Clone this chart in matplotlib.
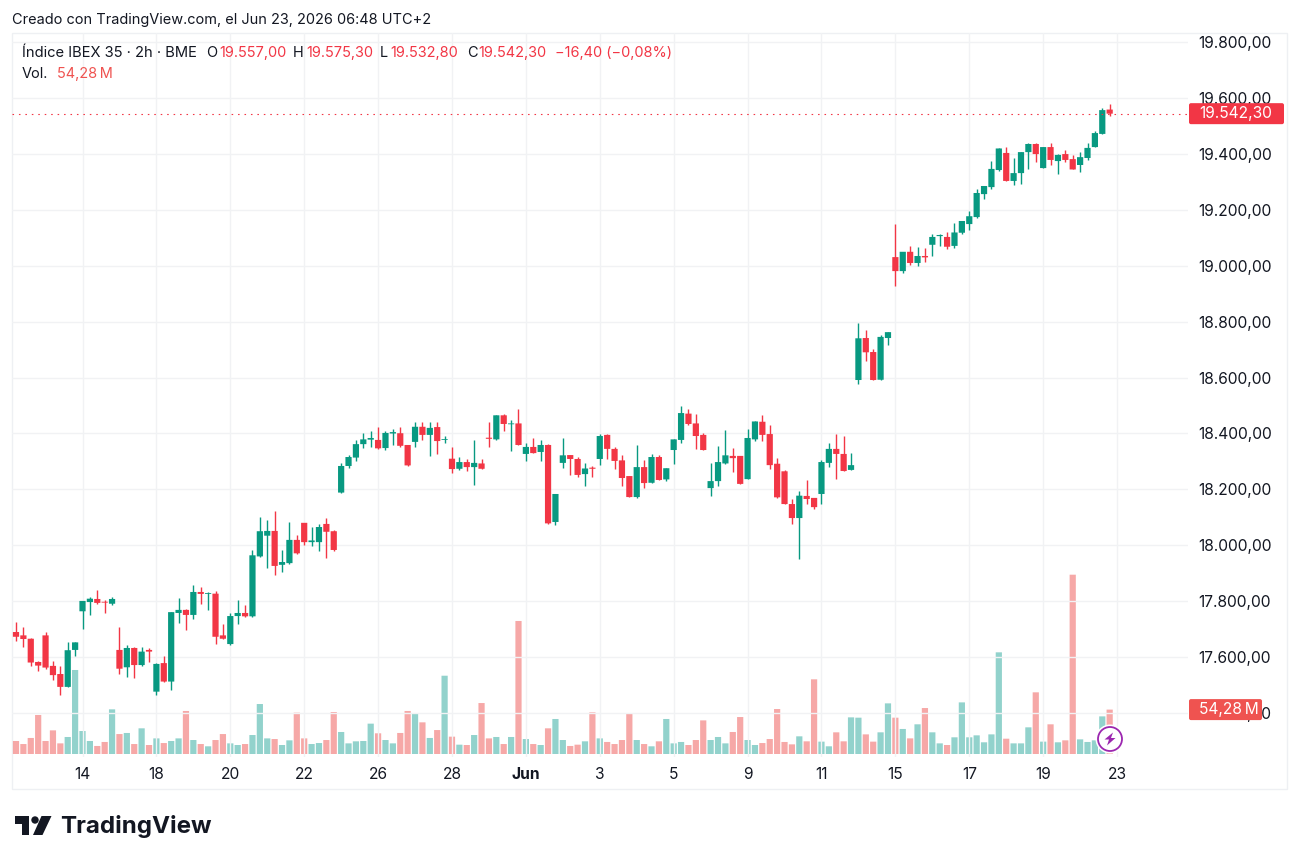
import matplotlib
matplotlib.use("Agg")
import matplotlib.pyplot as plt
from matplotlib.patches import Circle, FancyBboxPatch, Polygon, Rectangle
from matplotlib.transforms import IdentityTransform

plt.rcParams["font.family"] = ["Inter", "DejaVu Sans"]

# Two-hour OHLC bars, IBEX 35
opens = [
    17691, 17679, 17667, 17584, 17679, 17570, 17541, 17495, 17627, 17765,
    17798, 17809, 17799, 17792, 17627, 17565, 17634, 17573, 17627, 17478,
    17580, 17514, 17759, 17770, 17752, 17834, 17827, 17828, 17679, 17648,
    17748, 17759, 17747, 17961, 18035, 18052, 17931, 17937, 18020, 18081,
    18012, 18012, 18077, 18051, 18189, 18284, 18314, 18362, 18378, 18377,
    18348, 18400, 18401, 18359, 18370, 18424, 18395, 18423, 18377, 18310,
    18274, 18298, 18280, 18293, 18385, 18379, 18465, 18433, 18436, 18327,
    18352, 18334, 18359, 18084, 18295, 18323, 18309, 18255, 18278, 18309,
    18395, 18345, 18304, 18248, 18173, 18280, 18224, 18316, 18236, 18341,
    18377, 18471, 18436, 18395, 18205, 18230, 18293, 18320, 18320, 18237,
    18379, 18442, 18398, 18292, 18265, 18148, 18098, 18177, 18170, 18184,
    18295, 18345, 18327, 18270, 18591, 18741, 18691, 18592, 18741, 19030,
    18980, 19049, 19009, 19034, 19074, 19105, 19102, 19070, 19117, 19148,
    19173, 19255, 19280, 19341, 19402, 19302, 19330, 19405, 19434, 19348,
    19423, 19373, 19398, 19380, 19359, 19384, 19423, 19470, 19557,
]
highs = [
    17726, 17709, 17670, 17586, 17690, 17586, 17570, 17654, 17654, 17803,
    17815, 17841, 17805, 17816, 17709, 17645, 17638, 17638, 17634, 17580,
    17605, 17763, 17811, 17773, 17858, 17851, 17834, 17837, 17720, 17758,
    17804, 17787, 17983, 18102, 18091, 18123, 17984, 18084, 18037, 18082,
    18066, 18077, 18098, 18055, 18296, 18323, 18377, 18402, 18409, 18423,
    18408, 18415, 18423, 18360, 18442, 18441, 18442, 18441, 18391, 18352,
    18316, 18310, 18377, 18310, 18442, 18466, 18470, 18448, 18487, 18366,
    18384, 18377, 18362, 18185, 18385, 18324, 18316, 18293, 18284, 18397,
    18398, 18352, 18323, 18249, 18359, 18304, 18327, 18323, 18277, 18380,
    18498, 18487, 18470, 18402, 18293, 18355, 18412, 18348, 18321, 18416,
    18444, 18466, 18430, 18312, 18270, 18166, 18195, 18234, 18171, 18305,
    18366, 18398, 18391, 18330, 18795, 18770, 18701, 18752, 18763, 19148,
    19050, 19070, 19066, 19062, 19114, 19114, 19120, 19153, 19160, 19195,
    19273, 19285, 19373, 19420, 19424, 19384, 19406, 19436, 19436, 19424,
    19436, 19398, 19412, 19395, 19405, 19437, 19480, 19562, 19575.3,
]
lows = [
    17660, 17639, 17570, 17552, 17560, 17520, 17466, 17493, 17605, 17703,
    17753, 17792, 17759, 17789, 17541, 17529, 17527, 17568, 17584, 17466,
    17513, 17483, 17722, 17698, 17737, 17792, 17770, 17649, 17666, 17645,
    17720, 17745, 17745, 17959, 17920, 17895, 17906, 17934, 17970, 18002,
    17998, 17980, 17954, 17981, 18186, 18277, 18302, 18349, 18352, 18343,
    18341, 18359, 18353, 18285, 18352, 18377, 18320, 18327, 18366, 18259,
    18270, 18266, 18216, 18273, 18352, 18377, 18409, 18337, 18358, 18303,
    18329, 18303, 18077, 18073, 18277, 18252, 18245, 18211, 18245, 18286,
    18309, 18273, 18212, 18172, 18171, 18206, 18223, 18233, 18230, 18291,
    18367, 18430, 18345, 18340, 18177, 18211, 18292, 18262, 18219, 18236,
    18373, 18373, 18273, 18171, 18147, 18077, 17952, 18148, 18130, 18148,
    18280, 18237, 18265, 18269, 18577, 18659, 18590, 18591, 18717, 18927,
    18973, 19002, 18998, 19012, 19034, 19070, 19059, 19062, 19114, 19127,
    19170, 19237, 19273, 19336, 19301, 19287, 19291, 19345, 19370, 19347,
    19359, 19327, 19370, 19343, 19334, 19377, 19422, 19469, 19532.8,
]
closes = [
    17674, 17666, 17582, 17571, 17564, 17537, 17495, 17626, 17654, 17802,
    17810, 17795, 17796, 17809, 17560, 17634, 17573, 17621, 17621, 17577,
    17514, 17762, 17770, 17752, 17834, 17827, 17830, 17674, 17667, 17748,
    17759, 17747, 17965, 18051, 18052, 17927, 17941, 18020, 17972, 18012,
    18018, 18066, 18049, 17984, 18284, 18316, 18362, 18379, 18384, 18347,
    18402, 18405, 18356, 18286, 18424, 18395, 18420, 18373, 18380, 18273,
    18298, 18280, 18295, 18274, 18381, 18465, 18434, 18436, 18359, 18352,
    18330, 18359, 18079, 18184, 18322, 18309, 18252, 18275, 18274, 18391,
    18345, 18302, 18241, 18173, 18280, 18223, 18316, 18234, 18276, 18379,
    18473, 18434, 18391, 18341, 18230, 18298, 18322, 18312, 18220, 18384,
    18443, 18395, 18287, 18172, 18148, 18098, 18178, 18166, 18137, 18298,
    18345, 18327, 18266, 18287, 18740, 18690, 18591, 18745, 18762, 18980,
    19049, 19009, 19034, 19029, 19102, 19109, 19067, 19118, 19159, 19176,
    19259, 19284, 19345, 19418, 19302, 19330, 19405, 19434, 19398, 19423,
    19377, 19395, 19377, 19343, 19387, 19420, 19473, 19555, 19542.3,
]
# Traded volume per bar, in millions
volumes = [
    15.9, 12.2, 19.6, 47.7, 15.9, 28.9, 13, 20.8, 102.7, 28.1,
    15.9, 9.8, 14.7, 54.6, 24.4, 25.7, 12.2, 31.4, 11, 19.1,
    13.4, 15.9, 19.1, 52.6, 17.1, 12.2, 9.4, 17.1, 24.4, 13,
    11, 12.2, 23.2, 61.1, 19.1, 18.3, 11, 16.7, 50.5, 19.1,
    12.2, 13.4, 17.1, 51.3, 26.9, 13, 15.5, 15.9, 37.1, 25.3,
    17.1, 13, 25.7, 52.6, 48.9, 38.7, 19.6, 29.3, 95.7, 21.2,
    11.4, 11, 23.2, 62.3, 19.1, 20.8, 12.2, 20.8, 162.6, 18.3,
    12.2, 11, 31.4, 42.8, 17.1, 9.8, 11.4, 15.5, 50.9, 19.1,
    14.7, 12.2, 17.1, 48.9, 17.1, 12.2, 9.4, 15.5, 42.8, 13,
    14.7, 11, 17.1, 41.1, 17.1, 20.8, 13, 26.9, 45.2, 17.1,
    11, 13.4, 18.3, 55, 14.7, 11.8, 21.6, 15.5, 91.3, 15.1,
    9.4, 26.5, 15.5, 44.8, 44.4, 24, 15.1, 26.5, 61.9, 44.4,
    30.6, 19.1, 36.3, 56.2, 26.5, 13, 11, 20.4, 63.1, 20.4,
    22.8, 14.3, 24, 124.3, 18.7, 13, 13, 32.6, 75.4, 15.1,
    36.3, 14.3, 16.7, 219.2, 17.9, 14.7, 16.7, 46, 54.28,
]

price_ticks = [17400, 17600, 17800, 18000, 18200, 18400, 18600, 18800,
               19000, 19200, 19400, 19600, 19800]
date_tick_bars = [9, 19, 29, 39, 49, 59, 69, 79, 89, 99, 109, 119, 129, 139, 149]
date_tick_labels = ["14", "18", "20", "22", "26", "28", "Jun", "3", "5", "9",
                    "11", "15", "17", "19", "23"]

UP = "#089981"
DOWN = "#F23645"
VOL_UP = "#26A69A"
VOL_DOWN = "#EF5350"
INK = "#131722"
GRID = "#F1F2F4"
FRAME = "#EEF0F3"

WIDTH, HEIGHT = 1299, 863
AXIS_SIZE = 11.2
HEADER_SIZE = 10.45


def spanish_number(value):
    return f"{value:,.2f}".replace(",", "_").replace(".", ",").replace("_", ".")


def fx(x):
    return x / WIDTH


def fy(y):
    return 1 - y / HEIGHT


def px_label(x, y, text, color=INK, size=HEADER_SIZE, **kwargs):
    fig.text(fx(x), fy(y), text, color=color, fontsize=size, va="center", **kwargs)


fig = plt.figure(figsize=(WIDTH / 100, HEIGHT / 100), dpi=100, facecolor="white")

# Plot area spans x 12-1188, y 33-757 in pixels
position = [fx(12), fy(757), fx(1188) - fx(12), fy(33) - fy(757)]
ax_vol = fig.add_axes(position, zorder=1)
ax = fig.add_axes(position, zorder=2)
ax.patch.set_visible(False)

x_limits = (-0.541, 158.6)
bars = range(len(closes))
is_up = [c >= o for o, c in zip(opens, closes)]

# Volume histogram along the bottom of the pane
vol_bars = ax_vol.bar(bars, volumes, width=0.84, linewidth=0,
                      color=[VOL_UP if u else VOL_DOWN for u in is_up], alpha=0.5)
for patch in vol_bars:
    patch.set_snap(False)
ax_vol.set_xlim(*x_limits)
ax_vol.set_ylim(-3.67, 881.4)
ax_vol.axis("off")

# Candles: wicks first, then bodies
colors = [UP if u else DOWN for u in is_up]
ax.vlines(bars, lows, highs, colors=colors, linewidth=1.0, zorder=3)
bodies = ax.bar(bars, [abs(c - o) for o, c in zip(opens, closes)],
                bottom=[min(o, c) for o, c in zip(opens, closes)],
                width=0.84, color=colors, linewidth=0, zorder=4)
for patch in bodies:
    patch.set_snap(False)

ax.set_xlim(*x_limits)
ax.set_ylim(17244.6, 19830.4)
ax.yaxis.tick_right()
ax.set_yticks(price_ticks, [spanish_number(v) for v in price_ticks])
ax.set_xticks(date_tick_bars, date_tick_labels)
ax.tick_params(axis="both", length=0, labelcolor=INK)
ax.tick_params(axis="y", pad=7.2, labelsize=AXIS_SIZE)
ax.tick_params(axis="x", pad=7.2, labelsize=AXIS_SIZE)
ax.get_xticklabels()[date_tick_labels.index("Jun")].set_fontweight("bold")
ax.grid(True, color=GRID, linewidth=1.0, zorder=0)
ax.set_axisbelow(True)
for spine in ax.spines.values():
    spine.set_visible(False)

# Dotted line at the last close
ax.axhline(closes[-1], color=DOWN, linewidth=0.8, linestyle=(0, (1.4, 4.4)), zorder=5)

# Outer frame of the chart
fig.add_artist(Rectangle((fx(12), fy(789)), fx(1287) - fx(12), fy(33) - fy(789),
                         transform=fig.transFigure, fill=False,
                         edgecolor=FRAME, linewidth=1.0))

# Last-value tags on the price scale


def tag(x0, x1, y_center, height, color, text, text_x):
    box = FancyBboxPatch((x0, HEIGHT - y_center - height / 2), x1 - x0, height,
                         boxstyle="round,pad=0,rounding_size=2",
                         transform=IdentityTransform(), facecolor=color,
                         edgecolor="none", zorder=10)
    fig.add_artist(box)
    fig.text(fx(text_x), fy(y_center), text, color="white", fontsize=AXIS_SIZE,
             va="center", ha="left", zorder=11)


last_price_y = HEIGHT - ax.transData.transform((0, closes[-1]))[1]
tag(1189, 1284, last_price_y, 21, DOWN, spanish_number(closes[-1]), 1199)
last_vol_y = HEIGHT - ax_vol.transData.transform((0, volumes[-1]))[1]
tag(1189, 1262, last_vol_y, 21, VOL_DOWN,
    spanish_number(volumes[-1]) + "\u2009M", 1199)

# Title strip and OHLC legend
px_label(12, 20, "Creado con TradingView.com, el Jun 23, 2026 06:48 UTC+2")
px_label(22, 53, "Índice IBEX 35 · 2h · BME", size=10.6)
legend_items = [
    (206, "O", INK), (219, spanish_number(opens[-1]), DOWN),
    (293, "H", INK), (306, spanish_number(highs[-1]), DOWN),
    (380, "L", INK), (390, spanish_number(lows[-1]), DOWN),
    (467, "C", INK), (478, spanish_number(closes[-1]), DOWN),
    (555, "\u221216,40 (\u22120,08%)", DOWN),
]
for item_x, item_text, item_color in legend_items:
    px_label(item_x, 53, item_text, color=item_color)
px_label(22, 74, "Vol.")
px_label(57, 74, "54,28\u2009M", color=VOL_DOWN)

# Round lightning badge near the end of the volume pane
badge_x, badge_y = 1110, HEIGHT - 739
fig.add_artist(Circle((badge_x, badge_y), 14.5, transform=IdentityTransform(),
                      facecolor="white", edgecolor="none", zorder=8))
fig.add_artist(Circle((badge_x, badge_y), 12, transform=IdentityTransform(),
                      facecolor="white", edgecolor="#9C27B0", linewidth=1.3, zorder=9))
bolt = [(3, 6.5), (-5.5, -0.5), (-1, -0.5), (-3, -6.5), (5.5, 1), (1, 1)]
fig.add_artist(Polygon([(badge_x + a, badge_y + b) for a, b in bolt],
                       transform=IdentityTransform(), facecolor="#9C27B0",
                       edgecolor="none", zorder=10))

# TradingView mark and wordmark
MARK = "#131722"
stem = [(15, 816), (29, 816), (29, 835), (22, 835), (22, 823.5), (15, 823.5)]
slash = [(41.5, 816), (51.5, 816), (42.5, 835), (33, 835)]
for shape in (stem, slash):
    fig.add_artist(Polygon([(x, HEIGHT - y) for x, y in shape],
                           transform=IdentityTransform(), facecolor=MARK,
                           edgecolor="none"))
fig.add_artist(Circle((35, HEIGHT - 820), 3.7, transform=IdentityTransform(),
                      facecolor=MARK, edgecolor="none"))
px_label(60, 826, "TradingView", color=MARK, size=17.4, fontweight="bold")

fig.savefig("out.png", dpi=100, facecolor="white")
